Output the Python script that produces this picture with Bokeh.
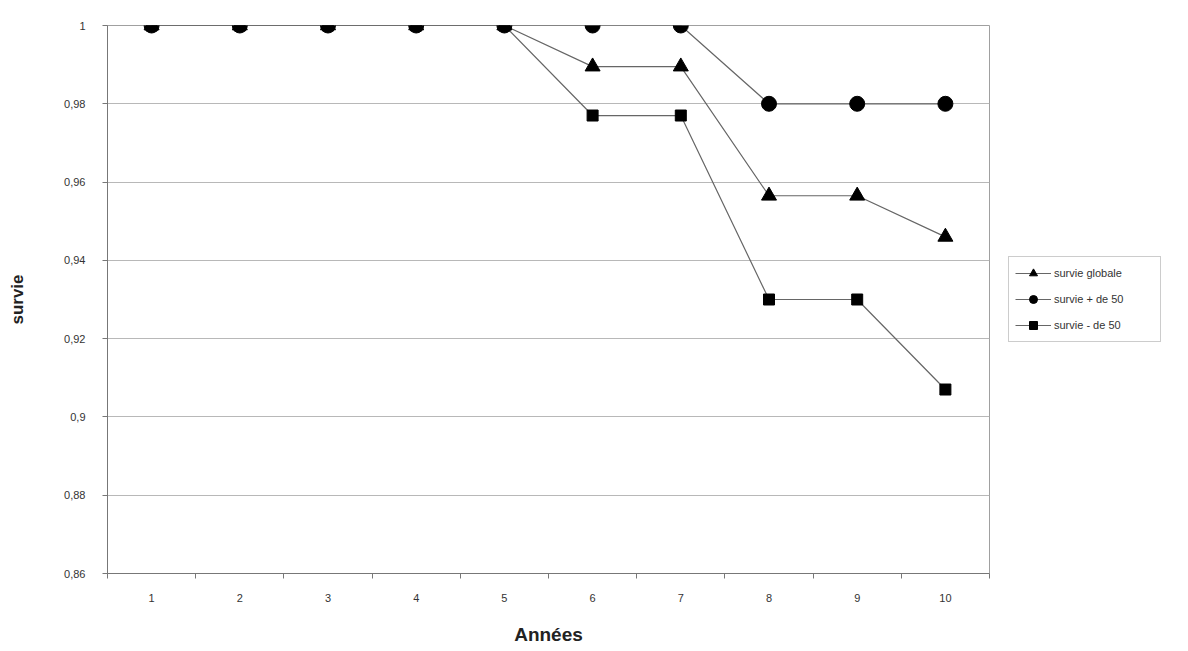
from bokeh.plotting import figure
from bokeh.models import FixedTicker, Legend, LegendItem, Range1d
from bokeh.embed import file_html
from bokeh.resources import INLINE

annees = [1, 2, 3, 4, 5, 6, 7, 8, 9, 10]
survie_globale = [1, 1, 1, 1, 1, 0.9895, 0.9895, 0.9565, 0.9565, 0.946]
survie_plus_50 = [1, 1, 1, 1, 1, 1, 1, 0.980, 0.980, 0.980]
survie_moins_50 = [1, 1, 1, 1, 1, 0.977, 0.977, 0.930, 0.930, 0.907]
y_ticks = [0.86, 0.88, 0.90, 0.92, 0.94, 0.96, 0.98, 1.0]
y_labels = ["0,86", "0,88", "0,9", "0,92", "0,94", "0,96", "0,98", "1"]

FONT = "Liberation Sans"

p = figure(frame_width=882, frame_height=548, output_backend="svg", toolbar_location=None,
           x_range=Range1d(0.5, 10.5), y_range=Range1d(0.86, 1.0))
p.min_border_left = 107
p.min_border_right = 10
p.min_border_top = 25
p.min_border_bottom = 70
p.outline_line_color = "#a0a0a0"
p.background_fill_color = "white"
p.border_fill_color = "white"

# axes
p.xaxis.ticker = FixedTicker(ticks=annees, minor_ticks=[a - 0.5 for a in annees] + [10.5])
p.xaxis.major_tick_out = 0
p.xaxis.major_tick_in = 0
p.xaxis.minor_tick_out = 5
p.xaxis.minor_tick_in = 0
p.xaxis.minor_tick_line_color = "#777777"
p.xaxis.major_label_standoff = 15
p.xaxis.axis_label = "Années"
p.xaxis.axis_label_standoff = 19

p.yaxis.ticker = FixedTicker(ticks=y_ticks)
p.yaxis.major_label_overrides = {t: l for t, l in zip(y_ticks, y_labels)}
p.yaxis.major_tick_out = 5
p.yaxis.major_tick_in = 0
p.yaxis.minor_tick_line_color = None
p.yaxis.major_label_standoff = 17
p.yaxis.axis_label = "survie"
p.yaxis.axis_label_standoff = 34

for ax in (p.xaxis, p.yaxis):
    ax.axis_line_color = "#777777"
    ax.major_tick_line_color = "#777777"
    ax.major_label_text_font = FONT
    ax.major_label_text_font_size = "11px"
    ax.major_label_text_color = "#333333"
    ax.axis_label_text_font = FONT
    ax.axis_label_text_font_style = "bold"
    ax.axis_label_text_color = "#222222"
p.xaxis.axis_label_text_font_size = "19px"
p.yaxis.axis_label_text_font_size = "17px"

p.xgrid.grid_line_color = None
p.ygrid.grid_line_color = "#b8b8b8"
p.ygrid.grid_line_width = 1.2

LINE = "#666666"
l1 = p.line(annees, survie_globale, line_color=LINE, line_width=1.2)
l2 = p.line(annees, survie_plus_50, line_color=LINE, line_width=1.2)
l3 = p.line(annees, survie_moins_50, line_color=LINE, line_width=1.2)
s3 = p.scatter(annees, survie_moins_50, marker="square", size=11, fill_color="black", line_color="black")
s1 = p.scatter(annees, survie_globale, marker="triangle", size=15, fill_color="black", line_color="black")
s2 = p.scatter(annees, survie_plus_50, marker="circle", size=15, fill_color="black", line_color="black")

legend = Legend(items=[
    LegendItem(label="survie globale", renderers=[l1, s1]),
    LegendItem(label="survie + de 50", renderers=[l2, s2]),
    LegendItem(label="survie - de 50", renderers=[l3, s3]),
], location="center_left")
legend.label_text_font = FONT
legend.label_text_font_size = "11px"
legend.label_text_color = "#333333"
legend.glyph_width = 36
legend.glyph_height = 20
legend.spacing = 6
legend.padding = 6
legend.margin = 19
legend.border_line_color = "#999999"
legend.label_standoff = 3
legend.label_width = 100
legend.background_fill_color = "white"
p.add_layout(legend, "right")

open("out.html", "w").write(file_html(p, INLINE))
